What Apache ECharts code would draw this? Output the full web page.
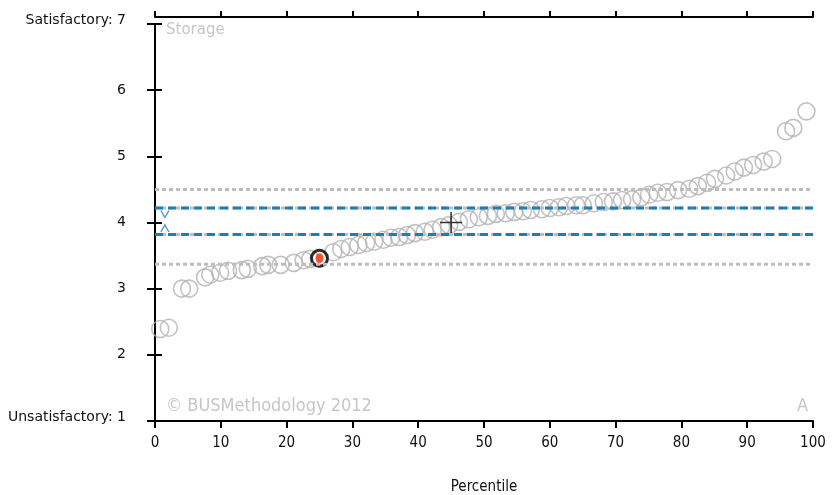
<!DOCTYPE html>
<html><head><meta charset="utf-8">
<script src="https://cdn.jsdelivr.net/npm/echarts@6/dist/echarts.min.js"></script>
<style>html,body{margin:0;padding:0;background:#fff;overflow:hidden}#c{position:absolute;left:0;top:0;width:833px;height:495px}</style>
</head><body><div id="c"></div>
<script>
// percentile (x) of each system
var percentiles = [0.8,2.1,4.1,5.2,7.6,8.4,9.9,11.1,13.2,14.1,16.3,17.2,19.1,21.1,22.6,23.6,24.9,27.1,28.3,29.6,30.9,32.1,33.3,34.7,35.9,37.1,38.3,39.5,41.0,42.2,43.5,44.7,46.2,47.7,49.2,50.6,51.8,53.3,54.6,55.9,57.1,58.8,60.0,61.4,62.5,64.0,65.0,66.7,68.2,69.6,71.0,72.5,73.9,75.1,76.4,77.8,79.5,81.2,82.5,83.9,85.1,86.8,88.1,89.5,90.9,92.5,93.8,95.9,97.0,99.0];
// score (y) of each system
var scores = [2.39,2.41,3.0,3.0,3.17,3.21,3.24,3.27,3.28,3.30,3.34,3.36,3.36,3.39,3.43,3.45,3.46,3.55,3.6,3.63,3.66,3.69,3.71,3.74,3.77,3.78,3.81,3.84,3.86,3.89,3.93,3.96,4.01,4.05,4.08,4.10,4.13,4.14,4.16,4.17,4.19,4.20,4.22,4.23,4.25,4.26,4.26,4.29,4.31,4.32,4.34,4.35,4.38,4.42,4.45,4.46,4.49,4.51,4.55,4.60,4.66,4.71,4.77,4.83,4.87,4.92,4.96,5.38,5.43,5.68];
var highlight = [25, 3.46];
var meanPoint = [45, 4.0];
var ciUpper = 4.22, ciLower = 3.82;
var outerUpper = 4.5, outerLower = 3.37;
var yTickLabels = {1:'Unsatisfactory: 1',2:'2',3:'3',4:'4',5:'5',6:'6',7:'Satisfactory: 7'};

var pts = percentiles.map(function(x,i){return [x, scores[i]];});
function hline(v){return [[0,v],[100,v]];}
var chart = echarts.init(document.getElementById('c'));
var condensed = "'DejaVu Sans Condensed',sans-serif";
var labelFont = "'DejaVu Sans',sans-serif";
var axisLine = {show:true, lineStyle:{color:'#000', width:2}};
chart.setOption({
  animation:false,
  grid:{left:155, right:20, top:24, bottom:74, outerBoundsMode:'none'},
  xAxis:[{
    type:'value', min:0, max:100, interval:10, position:'bottom',
    axisLine:axisLine, axisTick:{show:true, length:7, lineStyle:{color:'#000', width:2}},
    splitLine:{show:false},
    axisLabel:{margin:15, color:'#111', fontSize:15, fontFamily:condensed},
    name:'Percentile', nameLocation:'middle', nameGap:59,
    nameTextStyle:{color:'#111', fontSize:15, fontFamily:condensed}
  },{
    type:'value', min:0, max:100, interval:10, position:'top', offset:7,
    axisLine:axisLine, axisTick:{show:true, length:6, lineStyle:{color:'#000', width:2}},
    splitLine:{show:false}, axisLabel:{show:false}
  }],
  yAxis:[{
    type:'value', min:1, max:7, interval:1, position:'left',
    axisLine:axisLine, axisTick:{show:true, length:8, lineStyle:{color:'#000', width:2}},
    splitLine:{show:false},
    axisLabel:{margin:29, color:'#111', fontSize:14, fontFamily:labelFont,
      formatter:function(v){ var t=yTickLabels[v]; return (v==1||v==7)?'{e|'+t+'}':t; },
      rich:{e:{fontSize:14, fontFamily:labelFont, color:'#111', padding:[0,0,8,0]}}}
  },{
    type:'value', min:1, max:7, interval:1, position:'right', offset:7,
    axisLine:axisLine, axisTick:{show:true, length:7, lineStyle:{color:'#000', width:2}},
    splitLine:{show:false}, axisLabel:{show:false}
  }],
  series:[
    {type:'line', data:hline(outerUpper), symbol:'none', silent:true, lineStyle:{color:'#bdbdbd', width:3, type:[4,3]}},
    {type:'line', data:hline(outerLower), symbol:'none', silent:true, lineStyle:{color:'#bdbdbd', width:3, type:[4,3]}},
    {type:'line', data:hline(ciUpper), symbol:'none', silent:true, lineStyle:{color:'#bdbdbd', width:3, type:[4,3]}},
    {type:'line', data:hline(ciLower), symbol:'none', silent:true, lineStyle:{color:'#bdbdbd', width:3, type:[4,3]}},
    {type:'line', data:hline(ciUpper), symbol:'none', silent:true, lineStyle:{color:'#1b7fb3', width:3, type:[8,5]}},
    {type:'line', data:hline(ciLower), symbol:'none', silent:true, lineStyle:{color:'#1b7fb3', width:3, type:[8,5]}},
    {type:'scatter', data:[[1.5, ciUpper]], symbol:'path://M0,0L4,8L8,0', symbolSize:[8,7], symbolOffset:[0,6],
      itemStyle:{color:'rgba(0,0,0,0)', borderColor:'#1b7fb3', borderWidth:1.3}},
    {type:'scatter', data:[[1.5, ciLower]], symbol:'path://M0,8L4,0L8,8', symbolSize:[8,7], symbolOffset:[0,-6],
      itemStyle:{color:'rgba(0,0,0,0)', borderColor:'#1b7fb3', borderWidth:1.3}},
    {type:'scatter', data:pts, symbol:'circle', symbolSize:17,
      itemStyle:{color:'rgba(0,0,0,0)', borderColor:'#b3b3b3', borderWidth:1.6}},
    {type:'scatter', data:[highlight], symbol:'circle', symbolSize:16,
      itemStyle:{color:'rgba(0,0,0,0)', borderColor:'#000', borderWidth:3}},
    {type:'scatter', data:[highlight], symbol:'circle', symbolSize:[8,10],
      itemStyle:{color:'#ff2a00'}},
    {type:'scatter', data:[meanPoint], symbol:'path://M0,10L20,10M10,0L10,20', symbolSize:[22,21],
      itemStyle:{color:'rgba(0,0,0,0)', borderColor:'#000', borderWidth:1.5}}
  ],
  graphic:[
    {type:'text', left:166, top:23, style:{text:'Storage', fill:'#c6c6c6', font:"15px 'DejaVu Sans',sans-serif"}},
    {type:'text', left:166, top:397, style:{text:'\u00a9 BUSMethodology 2012', fill:'#c6c6c6', font:"18px "+condensed}},
    {type:'text', left:797, top:397, style:{text:'A', fill:'#c6c6c6', font:"18px "+condensed}}
  ]
});
</script></body></html>
